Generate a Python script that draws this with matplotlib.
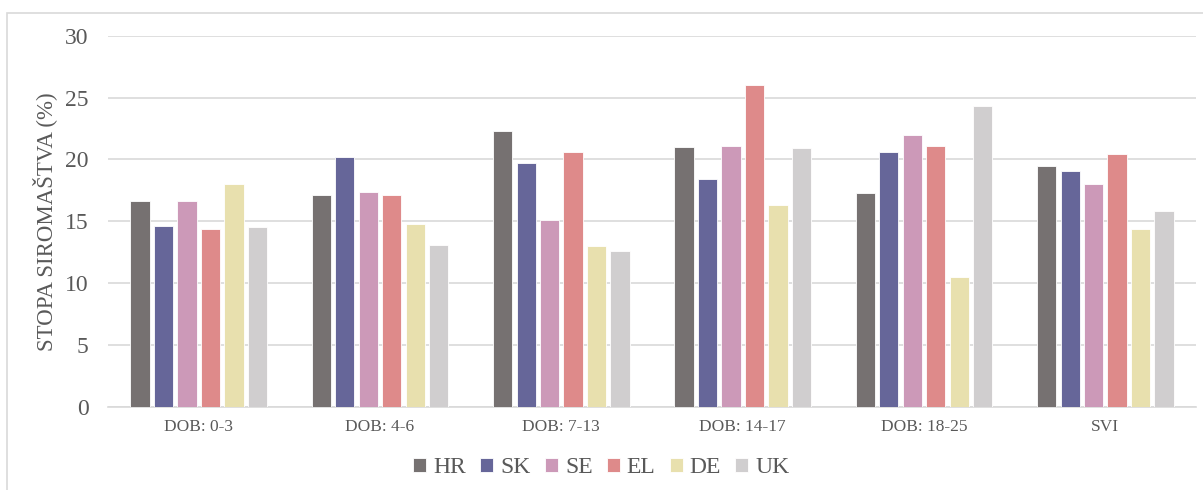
import matplotlib.pyplot as plt
import numpy as np
from matplotlib.patches import Rectangle

# podaci
groups = ['DOB: 0-3', 'DOB: 4-6', 'DOB: 7-13', 'DOB: 14-17', 'DOB: 18-25', 'SVI']
countries = ['HR', 'SK', 'SE', 'EL', 'DE', 'UK']
HR = [16.6, 17.1, 22.3, 21.0, 17.3, 19.5]
SK = [14.6, 20.2, 19.7, 18.4, 20.6, 19.1]
SE = [16.6, 17.4, 15.1, 21.1, 22.0, 18.0]
EL = [14.4, 17.1, 20.6, 26.0, 21.1, 20.4]
DE = [18.0, 14.8, 13.0, 16.3, 10.5, 14.4]
UK = [14.5, 13.1, 12.6, 20.9, 24.3, 15.8]
colors = ['#767171', '#666699', '#CC99B8', '#DE8A8A', '#E8E0AE', '#D0CECF']

plt.rcParams['font.family'] = ['Liberation Serif', 'DejaVu Serif']
txt = '#595959'

fig = plt.figure(figsize=(12.03, 4.9), dpi=100)
ax = fig.add_axes([0.0898, 0.170, 0.9044, 0.757])

# okvir oko grafikona
fig.patches.append(Rectangle((7 / 1203, -0.1), 1.2, 1 - 13 / 490 + 0.1,
                             transform=fig.transFigure, fill=False,
                             edgecolor='#D9D9D9', linewidth=1.2))

x = np.arange(len(groups))
pitch = 0.1295
w = 0.106
for i, (name, vals) in enumerate(zip(countries, [HR, SK, SE, EL, DE, UK])):
    ax.bar(x + (i - 2.5) * pitch, vals, width=w, color=colors[i], label=name,
           edgecolor='white', linewidth=0.6, zorder=3)

ax.set_xlim(-0.5, len(groups) - 0.5)
ax.set_ylim(0, 30)
ax.set_yticks(range(0, 31, 5))
ax.set_xticks(x)
ax.set_xticklabels(groups, fontsize=12.5, color=txt)
ax.tick_params(axis='y', labelsize=17, labelcolor=txt, length=0, pad=14)
ax.tick_params(axis='x', length=0, pad=9)
ax.yaxis.grid(True, color='#D9D9D9', linewidth=1.2, zorder=0)
for s in ['top', 'right', 'left']:
    ax.spines[s].set_visible(False)
ax.spines['bottom'].set_color('#D9D9D9')
ax.spines['bottom'].set_linewidth(1.2)

ax.set_ylabel('STOPA SIROMAŠTVA (%)', fontsize=16.5, color=txt, labelpad=6)

leg = fig.legend(loc='center', bbox_to_anchor=(0.5, 0.045), ncol=6, frameon=False,
                 fontsize=17, handlelength=0.55, handleheight=0.55, handletextpad=0.3,
                 columnspacing=0.6)
for t in leg.get_texts():
    t.set_color(txt)

fig.savefig('out.png', dpi=100)
